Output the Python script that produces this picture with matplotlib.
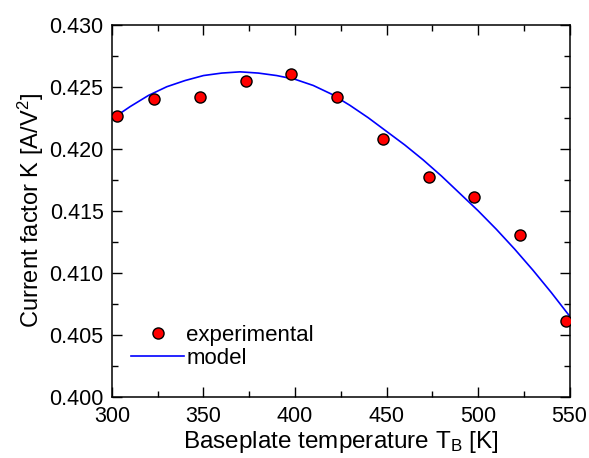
import matplotlib
matplotlib.use("Agg")
import matplotlib.pyplot as plt
from matplotlib.ticker import MultipleLocator

plt.rcParams["font.family"] = ["Liberation Sans", "DejaVu Sans"]
plt.rcParams["mathtext.fontset"] = "custom"
plt.rcParams["mathtext.rm"] = "Liberation Sans"
plt.rcParams["mathtext.it"] = "Liberation Sans"

# measured points
temp_exp = [303, 323, 348, 373, 398, 423, 448, 473, 498, 523, 548]
k_exp = [0.4226, 0.4240, 0.4242, 0.4255, 0.4260, 0.4242,
         0.4208, 0.4177, 0.4161, 0.4130, 0.4061]

# model curve
temp_model = [303, 310, 320, 330, 340, 350, 360, 370, 380, 390, 400, 410,
              420, 430, 440, 450, 460, 470, 480, 490, 500, 510, 520, 530,
              540, 550]
k_model = [0.4227, 0.4234, 0.4243, 0.4250, 0.4255, 0.4259, 0.4261, 0.4262,
           0.4261, 0.4259, 0.4256, 0.4251, 0.4244, 0.4235, 0.4225, 0.4214,
           0.4203, 0.4191, 0.4178, 0.4164, 0.4150, 0.4135, 0.4119, 0.4102,
           0.4084, 0.4065]

fig = plt.figure(figsize=(5.89, 4.58), dpi=100)
ax = fig.add_axes([0.190, 0.134, 0.777, 0.812])

ax.plot(temp_exp, k_exp, "o", color="red", markeredgecolor="black",
        markeredgewidth=1.0, markersize=8, label="experimental", zorder=3)
ax.plot(temp_model, k_model, color="#0000ff", linewidth=1.2, label="model", zorder=2)

ax.set_xlim(300, 550)
ax.set_ylim(0.400, 0.430)
ax.xaxis.set_major_locator(MultipleLocator(50))
ax.xaxis.set_minor_locator(MultipleLocator(25))
ax.yaxis.set_major_locator(MultipleLocator(0.005))
ax.yaxis.set_minor_locator(MultipleLocator(0.0025))
ax.yaxis.set_major_formatter(matplotlib.ticker.FormatStrFormatter("%.3f"))

ax.tick_params(which="both", direction="in", top=True, right=True,
               labelsize=15.5, width=1.0)
ax.tick_params(axis="x", pad=7)
ax.tick_params(axis="y", pad=6)
ax.tick_params(which="major", length=7)
ax.tick_params(which="minor", length=4.5)
for sp in ax.spines.values():
    sp.set_linewidth(1.1)

ax.set_xlabel("Baseplate temperature T$_\\mathrm{B}$ [K]", fontsize=17.5, labelpad=1)
ax.set_ylabel("Current factor K [A/V$^2$]", fontsize=17, labelpad=2)

ax.legend(loc="lower left", bbox_to_anchor=(0.022, 0.05), frameon=False,
          fontsize=16, handlelength=2.4, handletextpad=0.1,
          labelspacing=0.1, borderaxespad=0.0)

fig.savefig("out.png", dpi=100, facecolor="white")
